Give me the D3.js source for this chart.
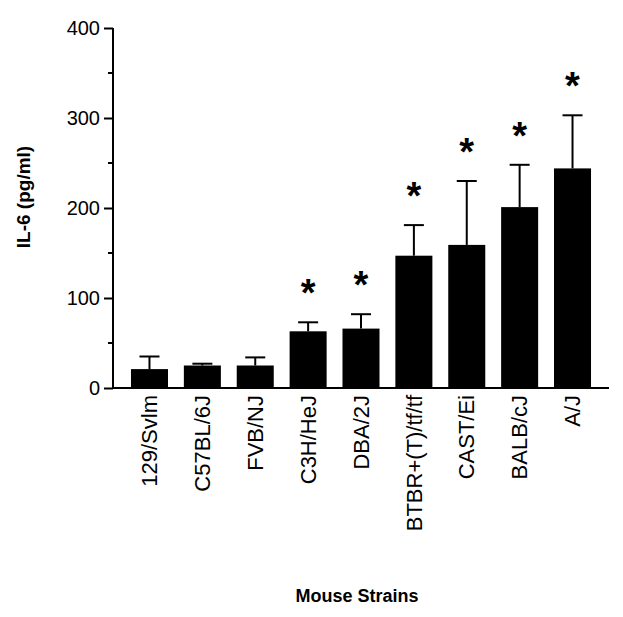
<html>
<head>
<meta charset="utf-8">
<script src="https://cdnjs.cloudflare.com/ajax/libs/d3/7.8.5/d3.min.js"></script>
<style>
  body { margin: 0; background: #fff; }
  text { font-family: "Liberation Sans", Arial, sans-serif; fill: #000; }
</style>
</head>
<body>
<div id="chart"></div>
<script>
// data
var strains = ["129/Svlm", "C57BL/6J", "FVB/NJ", "C3H/HeJ", "DBA/2J", "BTBR+(T)/tf/tf", "CAST/Ei", "BALB/cJ", "A/J"];
var il6 = [21, 25, 25, 63, 66, 147, 159, 201, 244];
var sem = [14, 2, 9, 10, 16, 34, 71, 47, 59];
var signif = [false, false, false, true, true, true, true, true, true];
var yTicks = [0, 100, 200, 300, 400];
var yMinor = [50, 150, 250, 350];

var W = 623, H = 617;
var svg = d3.select("#chart").append("svg").attr("width", W).attr("height", H);

var x = d3.scaleBand().domain(strains).range([113, 609]).paddingInner(0.3).paddingOuter(0.34);
var y = d3.scaleLinear().domain([0, 400]).range([388, 28]);

var rows = strains.map(function(s, i){ return {name: s, v: il6[i], e: sem[i], star: signif[i]}; });

// bars
svg.append("g").selectAll("rect").data(rows).enter().append("rect")
  .attr("x", function(d){ return x(d.name); })
  .attr("y", function(d){ return y(d.v); })
  .attr("width", x.bandwidth())
  .attr("height", function(d){ return y(0) - y(d.v); })
  .attr("fill", "#000");

// error bars (upper only)
var eb = svg.append("g").attr("stroke", "#000").attr("stroke-width", 2);
rows.forEach(function(d){
  var cx = x(d.name) + x.bandwidth()/2;
  eb.append("line").attr("x1", cx).attr("x2", cx).attr("y1", y(d.v)).attr("y2", y(d.v + d.e));
  eb.append("line").attr("x1", cx - 10).attr("x2", cx + 10).attr("y1", y(d.v + d.e)).attr("y2", y(d.v + d.e));
});

// significance stars
svg.append("g").selectAll("text").data(rows.filter(function(d){ return d.star; })).enter().append("text")
  .attr("x", function(d){ return x(d.name) + x.bandwidth()/2; })
  .attr("y", function(d){ return y(d.v + d.e) - 16; })
  .attr("text-anchor", "middle")
  .style("font-size", "38px")
  .style("font-weight", "bold")
  .text("*");

// y axis
var yAxis = svg.append("g").attr("transform", "translate(113,0)")
  .call(d3.axisLeft(y).tickValues(yTicks).tickSize(9).tickPadding(4).tickFormat(d3.format("d")));
yAxis.select(".domain").attr("stroke-width", 2).attr("d", "M0," + y(400) + "V" + y(0));
yAxis.selectAll(".tick line").attr("stroke-width", 2);
yAxis.selectAll(".tick text").style("font-size", "20px").style("font-family", "Liberation Sans, Arial, sans-serif");
svg.append("g").selectAll("line").data(yMinor).enter().append("line")
  .attr("x1", 108).attr("x2", 113)
  .attr("y1", function(d){ return y(d); }).attr("y2", function(d){ return y(d); })
  .attr("stroke", "#000").attr("stroke-width", 2);

// x axis
var xAxis = svg.append("g").attr("transform", "translate(0,388)")
  .call(d3.axisBottom(x).tickSize(0).tickPadding(0));
xAxis.select(".domain").attr("stroke-width", 2).attr("d", "M112,0H609");
xAxis.selectAll(".tick text")
  .attr("transform", "rotate(-90)")
  .attr("text-anchor", "end")
  .attr("x", -7).attr("y", 0).attr("dy", "0.35em")
  .style("font-size", "22px")
  .style("font-family", "Liberation Sans, Arial, sans-serif");

// axis titles
svg.append("text").attr("transform", "translate(30,197) rotate(-90)")
  .attr("text-anchor", "middle")
  .style("font-size", "19px").style("font-weight", "bold")
  .text("IL-6 (pg/ml)");
svg.append("text").attr("x", 357).attr("y", 602)
  .attr("text-anchor", "middle")
  .style("font-size", "18px").style("font-weight", "bold")
  .text("Mouse Strains");
</script>
</body>
</html>
